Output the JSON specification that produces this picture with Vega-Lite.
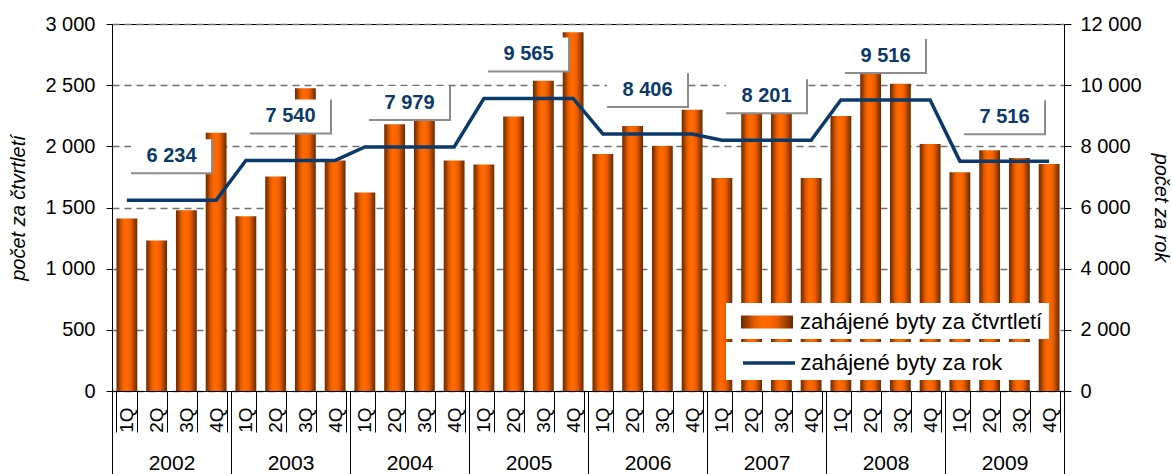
{
  "$schema": "https://vega.github.io/schema/vega-lite/v6.json",
  "width": 952,
  "height": 367,
  "autosize": {"type": "none"},
  "padding": {"left": 112, "top": 24, "right": 108, "bottom": 83},
  "background": "white",
  "config": {
    "font": "Liberation Sans",
    "locale": {"number": {"decimal": ",", "thousands": " ", "grouping": [3], "currency": ["", " Kč"]}},
    "view": {"stroke": "black", "strokeWidth": 1},
    "axis": {
      "labelFont": "Liberation Sans",
      "labelFontSize": 20,
      "labelColor": "black",
      "domainColor": "black",
      "tickColor": "black",
      "titleFont": "Liberation Sans",
      "titleFontSize": 20,
      "titleFontStyle": "italic",
      "titleFontWeight": "normal",
      "titleColor": "black"
    },
    "legend": {
      "labelFont": "Liberation Sans",
      "labelFontSize": 22,
      "labelColor": "black",
      "labelLimit": 400,
      "padding": 6,
      "fillColor": "white",
      "symbolSize": 676,
      "symbolOffset": 9,
      "labelOffset": 33,
      "symbolOpacity": 1
    }
  },
  "datasets": {
    "quarters": [
      {"period": "2002-1Q", "year": "2002", "ctvrtleti": 1410, "rok": 6234},
      {"period": "2002-2Q", "year": "2002", "ctvrtleti": 1230, "rok": 6234},
      {"period": "2002-3Q", "year": "2002", "ctvrtleti": 1478, "rok": 6234},
      {"period": "2002-4Q", "year": "2002", "ctvrtleti": 2112, "rok": 6234},
      {"period": "2003-1Q", "year": "2003", "ctvrtleti": 1428, "rok": 7540},
      {"period": "2003-2Q", "year": "2003", "ctvrtleti": 1754, "rok": 7540},
      {"period": "2003-3Q", "year": "2003", "ctvrtleti": 2474, "rok": 7540},
      {"period": "2003-4Q", "year": "2003", "ctvrtleti": 1884, "rok": 7540},
      {"period": "2004-1Q", "year": "2004", "ctvrtleti": 1622, "rok": 7979},
      {"period": "2004-2Q", "year": "2004", "ctvrtleti": 2180, "rok": 7979},
      {"period": "2004-3Q", "year": "2004", "ctvrtleti": 2292, "rok": 7979},
      {"period": "2004-4Q", "year": "2004", "ctvrtleti": 1885, "rok": 7979},
      {"period": "2005-1Q", "year": "2005", "ctvrtleti": 1852, "rok": 9565},
      {"period": "2005-2Q", "year": "2005", "ctvrtleti": 2244, "rok": 9565},
      {"period": "2005-3Q", "year": "2005", "ctvrtleti": 2537, "rok": 9565},
      {"period": "2005-4Q", "year": "2005", "ctvrtleti": 2932, "rok": 9565},
      {"period": "2006-1Q", "year": "2006", "ctvrtleti": 1937, "rok": 8406},
      {"period": "2006-2Q", "year": "2006", "ctvrtleti": 2166, "rok": 8406},
      {"period": "2006-3Q", "year": "2006", "ctvrtleti": 2003, "rok": 8406},
      {"period": "2006-4Q", "year": "2006", "ctvrtleti": 2300, "rok": 8406},
      {"period": "2007-1Q", "year": "2007", "ctvrtleti": 1741, "rok": 8201},
      {"period": "2007-2Q", "year": "2007", "ctvrtleti": 2281, "rok": 8201},
      {"period": "2007-3Q", "year": "2007", "ctvrtleti": 2438, "rok": 8201},
      {"period": "2007-4Q", "year": "2007", "ctvrtleti": 1741, "rok": 8201},
      {"period": "2008-1Q", "year": "2008", "ctvrtleti": 2248, "rok": 9516},
      {"period": "2008-2Q", "year": "2008", "ctvrtleti": 2738, "rok": 9516},
      {"period": "2008-3Q", "year": "2008", "ctvrtleti": 2511, "rok": 9516},
      {"period": "2008-4Q", "year": "2008", "ctvrtleti": 2019, "rok": 9516},
      {"period": "2009-1Q", "year": "2009", "ctvrtleti": 1788, "rok": 7516},
      {"period": "2009-2Q", "year": "2009", "ctvrtleti": 1968, "rok": 7516},
      {"period": "2009-3Q", "year": "2009", "ctvrtleti": 1904, "rok": 7516},
      {"period": "2009-4Q", "year": "2009", "ctvrtleti": 1856, "rok": 7516}
    ],
    "years": [
      {"year": "2002", "rok": 6234},
      {"year": "2003", "rok": 7540},
      {"year": "2004", "rok": 7979},
      {"year": "2005", "rok": 9565},
      {"year": "2006", "rok": 8406},
      {"year": "2007", "rok": 8201},
      {"year": "2008", "rok": 9516},
      {"year": "2009", "rok": 7516}
    ]
  },
  "layer": [
    {
      "data": {"name": "quarters"},
      "mark": {
        "type": "bar",
        "strokeWidth": 0,
        "fill": {
          "gradient": "linear", "x1": 0, "x2": 1, "y1": 0, "y2": 0,
          "stops": [
            {"offset": 0, "color": "#6e2a00"},
            {"offset": 0.12, "color": "#9c3d00"},
            {"offset": 0.25, "color": "#e05a00"},
            {"offset": 0.4, "color": "#ff6a00"},
            {"offset": 0.55, "color": "#ff6600"},
            {"offset": 0.7, "color": "#e85c00"},
            {"offset": 0.82, "color": "#b04800"},
            {"offset": 1, "color": "#6a2800"}
          ]
        }
      },
      "encoding": {
        "x": {
          "field": "period", "type": "nominal", "sort": null,
          "scale": {"type": "band", "paddingInner": 0.3, "paddingOuter": 0.15},
          "axis": {
            "orient": "bottom", "title": null,
            "labelExpr": "isValid(datum.value) ? substring(datum.value, 5) : ''",
            "labelAngle": -90, "tickBand": "extent", "tickSize": 41, "labelPadding": -25,
            "labelFontSize": 19, "grid": false
          }
        },
        "y": {
          "field": "ctvrtleti", "type": "quantitative",
          "scale": {"domain": [0, 3000], "nice": false},
          "axis": {
            "orient": "left", "title": "počet za čtvrtletí", "format": ",.0f",
            "values": [0, 500, 1000, 1500, 2000, 2500, 3000],
            "grid": true, "gridDash": [7, 5], "gridColor": "#707070", "gridWidth": 1.5,
            "tickSize": 6, "labelPadding": 11, "titlePadding": 16
          }
        },
        "opacity": {
          "datum": "zahájené byty za čtvrtletí", "type": "ordinal",
          "scale": {"domain": ["zahájené byty za čtvrtletí"], "range": [1, 1]},
          "legend": {
            "orient": "none", "legendX": 614, "legendY": 279, "title": null,
            "symbolType": "M-1,-0.5H3V0.5H-1Z", "symbolStrokeWidth": 0
          }
        }
      }
    },
    {
      "data": {"name": "quarters"},
      "mark": {"type": "line", "strokeWidth": 3.5},
      "encoding": {
        "x": {
          "field": "period", "type": "nominal", "sort": null,
          "scale": {"type": "band", "paddingInner": 0.3, "paddingOuter": 0.15},
          "axis": null
        },
        "y": {
          "field": "rok", "type": "quantitative",
          "scale": {"domain": [0, 12000], "nice": false},
          "axis": {
            "orient": "right", "title": "počet za rok", "format": ",.0f",
            "values": [0, 2000, 4000, 6000, 8000, 10000, 12000],
            "grid": false, "tickSize": 7, "labelPadding": 9, "titlePadding": 9, "titleAngle": 90
          }
        },
        "stroke": {
          "datum": "zahájené byty za rok", "type": "nominal",
          "scale": {"domain": ["zahájené byty za rok"], "range": ["#0b3a6a"]},
          "legend": {
            "orient": "none", "legendX": 614, "legendY": 318,
            "title": "\u00a0", "titleOrient": "right", "titlePadding": 30, "titleFontSize": 10,
            "symbolType": "M-1,0H3", "symbolStrokeWidth": 3.5, "labelOffset": 29.5
          }
        }
      }
    },
    {
      "data": {"name": "years"},
      "mark": {"type": "point", "shape": "M-1,-0.42H1V0.42H-1Z", "size": 6561, "filled": true, "fill": "white", "opacity": 1, "strokeWidth": 0, "yOffset": -44},
      "encoding": {
        "x": {
          "field": "year", "type": "nominal",
          "scale": {"type": "band", "paddingInner": 0, "paddingOuter": 0},
          "axis": {
            "orient": "bottom", "title": null, "domain": false, "tickBand": "extent",
            "labelExpr": "isValid(datum.value) ? datum.value : ''",
            "tickSize": 83, "labelPadding": -22, "labelFontSize": 21, "labelAngle": 0, "grid": false
          }
        },
        "y": {"field": "rok", "type": "quantitative", "scale": {"domain": [0, 12000], "nice": false}, "axis": null}
      }
    },
    {
      "data": {"name": "years"},
      "mark": {"type": "point", "shape": "M1,-0.42V0.42H-1", "size": 6561, "filled": false, "stroke": "#8c8c8c", "strokeWidth": 2, "opacity": 1, "yOffset": -44},
      "encoding": {
        "x": {"field": "year", "type": "nominal", "scale": {"type": "band", "paddingInner": 0, "paddingOuter": 0}, "axis": null},
        "y": {"field": "rok", "type": "quantitative", "scale": {"domain": [0, 12000], "nice": false}, "axis": null}
      }
    },
    {
      "data": {"name": "years"},
      "mark": {"type": "text", "fontSize": 20, "fontWeight": "bold", "fill": "#0b3a6a", "font": "Liberation Sans", "align": "center", "baseline": "middle", "yOffset": -44},
      "encoding": {
        "x": {"field": "year", "type": "nominal", "scale": {"type": "band", "paddingInner": 0, "paddingOuter": 0}, "axis": null},
        "y": {"field": "rok", "type": "quantitative", "scale": {"domain": [0, 12000], "nice": false}, "axis": null},
        "text": {"field": "rok", "type": "quantitative", "format": ","}
      }
    }
  ],
  "resolve": {"scale": {"x": "independent", "y": "independent"}}
}
